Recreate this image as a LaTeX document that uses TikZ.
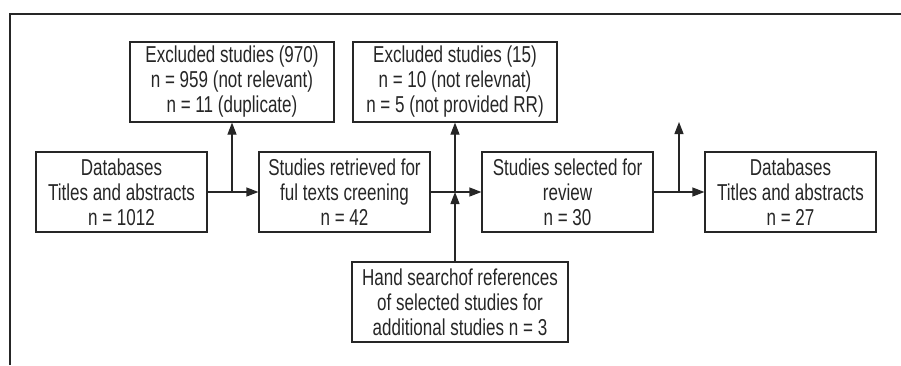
\documentclass[tikz,border=0pt]{standalone}
\usepackage{fontspec}
\setmainfont[FakeStretch=0.74]{Liberation Sans}
\usetikzlibrary{arrows.meta}
\definecolor{ink}{HTML}{262626}
\begin{document}
\begin{tikzpicture}[x=1pt,y=-1pt,
  box/.style={draw=ink,line width=1.2pt,rectangle,minimum height=80pt,inner sep=0pt,
    align=center,text=ink,font=\fontsize{23}{25}\selectfont},
  narrowbox/.style={box,minimum width=171pt},
  widebox/.style={box,minimum width=204pt},
  conn/.style={draw=ink,line width=1.2pt,-{Triangle[length=12pt,width=9pt]}}]
\useasboundingbox (0,0) rectangle (901,365);
\draw[ink,line width=2.4pt] (10,365) -- (10,14) -- (901,14);
\node[narrowbox] (A) at (121.5,192) {Databases\\Titles and abstracts\\n = 1012};
\node[narrowbox] (B) at (344.5,192) {Studies retrieved for\\ful texts creening\\n = 42};
\node[narrowbox] (C) at (567.5,192) {Studies selected for\\review\\n = 30};
\node[narrowbox] (D) at (790.5,192) {Databases\\Titles and abstracts\\n = 27};
\node[widebox] (E1) at (232,82) {Excluded studies (970)\\n = 959 (not relevant)\\n = 11 (duplicate)};
\node[widebox] (E2) at (455,82) {Excluded studies (15)\\n = 10 (not relevnat)\\n = 5 (not provided RR)};
\node[box,minimum width=216pt] (H) at (460,302) {Hand searchof references\\of selected studies for\\additional studies n = 3};
\coordinate (top3) at (679,122);
\draw[conn] (A) -- (B);
\draw[conn] (A.east -| E1.south) -- (E1.south);
\draw[conn] (B) -- (C);
\draw[conn] (B.east -| E2.south) -- (E2.south);
\draw[conn] (H.north -| E2.south) -- (B.east -| E2.south);
\draw[conn] (C) -- (D);
\draw[conn] (C.east -| top3) -- (top3);
\end{tikzpicture}
\end{document}
